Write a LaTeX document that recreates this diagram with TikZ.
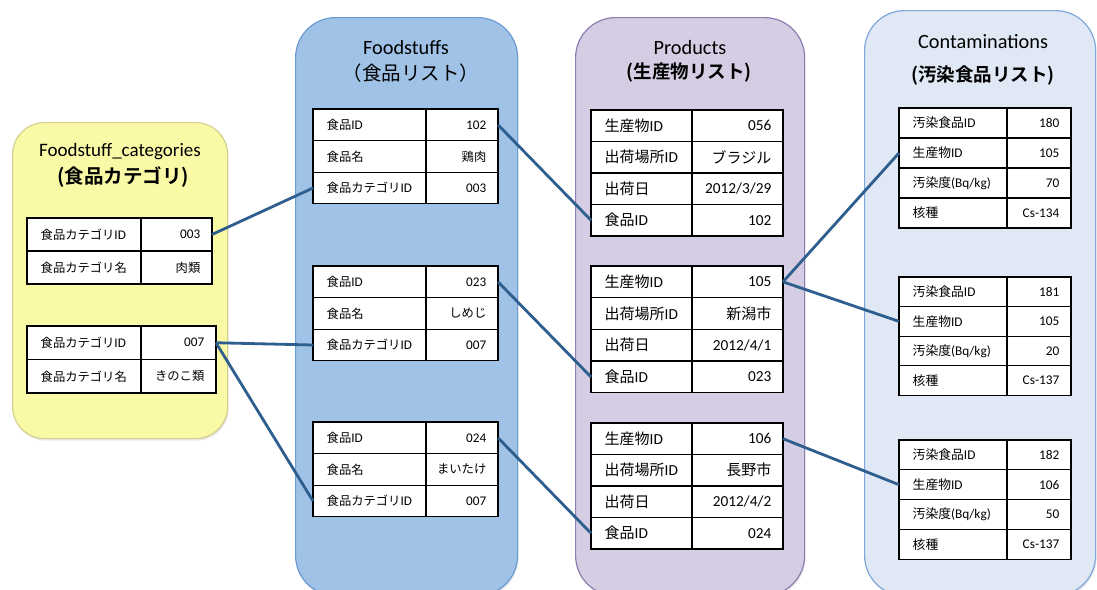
\documentclass[tikz,border=0pt]{standalone}
\usepackage{fontspec}
\setmainfont{Carlito}
\newfontfamily\jp{Noto Sans CJK JP}[BoldFont={Noto Sans CJK JP Bold}]
\usetikzlibrary{shadows}
\definecolor{ylwfill}{HTML}{FAF9A5}
\definecolor{ylwdraw}{HTML}{D4D08F}
\definecolor{bluefill}{HTML}{9FC2E6}
\definecolor{bluedraw}{HTML}{6C9BD2}
\definecolor{purfill}{HTML}{D5CDE3}
\definecolor{purdraw}{HTML}{8E7EB2}
\definecolor{ltfill}{HTML}{DFE8F4}
\definecolor{ltdraw}{HTML}{7FA7D9}
\definecolor{linkcol}{HTML}{2D5E8D}
\def\jsize{}
\newcommand\J[1]{{\jp\jsize #1}}
% #1 name, #2 left, #3 top, #4 divider, #5 right, #6 row height, #7 latin size, #8 cjk size, #9 rows
\newcommand\mktbl[9]{%
  \def\jsize{\fontsize{#8}{16}\selectfont}%
  \foreach [count=\i] \k/\v in {#9}{%
    \node[cell, minimum width={#4-#2}, minimum height={#6}] (#1-k\i) at ({#2},{#3+(\i-1)*#6}) {};
    \node[cell, minimum width={#5-#4}, minimum height={#6}] (#1-v\i) at ({#4},{#3+(\i-1)*#6}) {};
    \node[ctext, font=\fontsize{#7}{16}\selectfont, anchor=west] (#1-kt\i) at ([xshift=13.5pt]#1-k\i.west) {\k};
    \node[ctext, font=\fontsize{#7}{16}\selectfont, anchor=east] (#1-vt\i) at ([xshift=-11.5pt]#1-v\i.east) {\v};
  }%
}
\tikzset{
  panel/.style={line width=1.2pt, anchor=north west, inner sep=0pt,
    drop shadow={opacity=0.18, shadow xshift=1pt, shadow yshift=-2pt}},
  cell/.style={draw=black, line width=1.3pt, fill=white, inner sep=0pt, outer sep=0pt, anchor=north west},
  ctext/.style={inner sep=0pt},
  link/.style={draw=linkcol, line width=2.8pt},
  ttl/.style={inner sep=0pt, font=\fontsize{20.3}{23}\selectfont},
  ttlj/.style={inner sep=0pt, font=\fontsize{18.5}{22}\selectfont\jp\bfseries},
}
\begin{document}
\begin{tikzpicture}[x=1pt, y=-1pt]
\useasboundingbox (0,0) rectangle (1097,589);
% panels
\node[panel, rounded corners=32pt, fill=ylwfill, draw=ylwdraw, minimum width=215, minimum height=316] (pY) at (12,122) {};
\node[panel, rounded corners=40pt, fill=bluefill, draw=bluedraw, minimum width=222, minimum height=578] (pB) at (295,17) {};
\node[panel, rounded corners=40pt, fill=purfill, draw=purdraw, minimum width=229, minimum height=578] (pP) at (575,17) {};
\node[panel, rounded corners=40pt, fill=ltfill, draw=ltdraw, minimum width=231, minimum height=585] (pC) at (864,10) {};
% titles
\node[ttl, font=\fontsize{19}{22}\selectfont] (tY1) at (120,152) {Foodstuff\_categories};
\node[ttlj, font=\fontsize{19.5}{22}\selectfont\jp\bfseries] (tY2) at (123,177) {(食品カテゴリ)};
\node[ttl] (tB1) at (406,48) {Foodstuffs};
\node[inner sep=0pt, font=\fontsize{19.5}{22}\selectfont\jp] (tB2) at (411,73) {（食品リスト）};
\node[ttl] (tP1) at (690,48) {Products};
\node[ttlj] (tP2) at (689,73) {(生産物リスト)};
\node[ttl] (tC1) at (983,42) {Contaminations};
\node[ttlj] (tC2) at (983,75) {(汚染食品リスト)};
% tables
\mktbl{y1}{27}{218}{141}{212}{33}{13.2}{12.3}{\J{食品カテゴリ}ID/003, \J{食品カテゴリ名}/\J{肉類}}
\mktbl{y2}{27}{326}{141}{216}{33.5}{13.2}{12.3}{\J{食品カテゴリ}ID/007, \J{食品カテゴリ名}/\J{きのこ類}}
\mktbl{f1}{313}{109}{426}{498}{31.6}{13.2}{12.3}{\J{食品}ID/102, \J{食品名}/\J{鶏肉}, \J{食品カテゴリ}ID/003}
\mktbl{f2}{313}{266}{426}{498}{31.6}{13.2}{12.3}{\J{食品}ID/023, \J{食品名}/\J{しめじ}, \J{食品カテゴリ}ID/007}
\mktbl{f3}{313}{422}{426}{498}{31.6}{13.2}{12.3}{\J{食品}ID/024, \J{食品名}/\J{まいたけ}, \J{食品カテゴリ}ID/007}
\mktbl{p1}{591}{110}{692}{783}{31.5}{15.3}{15}{\J{生産物}ID/056, \J{出荷場所}ID/\J{ブラジル}, \J{出荷日}/{2012/3/29}, \J{食品}ID/102}
\mktbl{p2}{591}{266}{692}{783}{31.7}{15.3}{15}{\J{生産物}ID/105, \J{出荷場所}ID/\J{新潟市}, \J{出荷日}/{2012/4/1}, \J{食品}ID/023}
\mktbl{p3}{591}{423}{692}{783}{31.5}{15.3}{15}{\J{生産物}ID/106, \J{出荷場所}ID/\J{長野市}, \J{出荷日}/{2012/4/2}, \J{食品}ID/024}
\mktbl{c1}{899}{108}{1007}{1071}{30}{13.3}{12.8}{\J{汚染食品}ID/180, \J{生産物}ID/105, {\J{汚染度}(Bq/kg)}/70, \J{核種}/Cs-134}
\mktbl{c2}{899}{277}{1007}{1071}{29.6}{13.3}{12.8}{\J{汚染食品}ID/181, \J{生産物}ID/105, {\J{汚染度}(Bq/kg)}/20, \J{核種}/Cs-137}
\mktbl{c3}{899}{440}{1007}{1071}{29.8}{13.3}{12.8}{\J{汚染食品}ID/182, \J{生産物}ID/106, {\J{汚染度}(Bq/kg)}/50, \J{核種}/Cs-137}
% links
\draw[link] (y1-v1.east) -- (f1-k3.west);
\draw[link] (y2-v1.east) -- (f2-k3.west);
\draw[link] (y2-v1.east) -- (f3-k3.west);
\draw[link] (f1-v1.east) -- (p1-k4.west);
\draw[link] (f2-v1.east) -- (p2-k4.west);
\draw[link] (f3-v1.east) -- (p3-k4.west);
\draw[link] (p2-v1.east) -- (c1-k2.west);
\draw[link] (p2-v1.east) -- (c2-k2.west);
\draw[link] (p3-v1.east) -- (c3-k2.west);
\end{tikzpicture}
\end{document}
